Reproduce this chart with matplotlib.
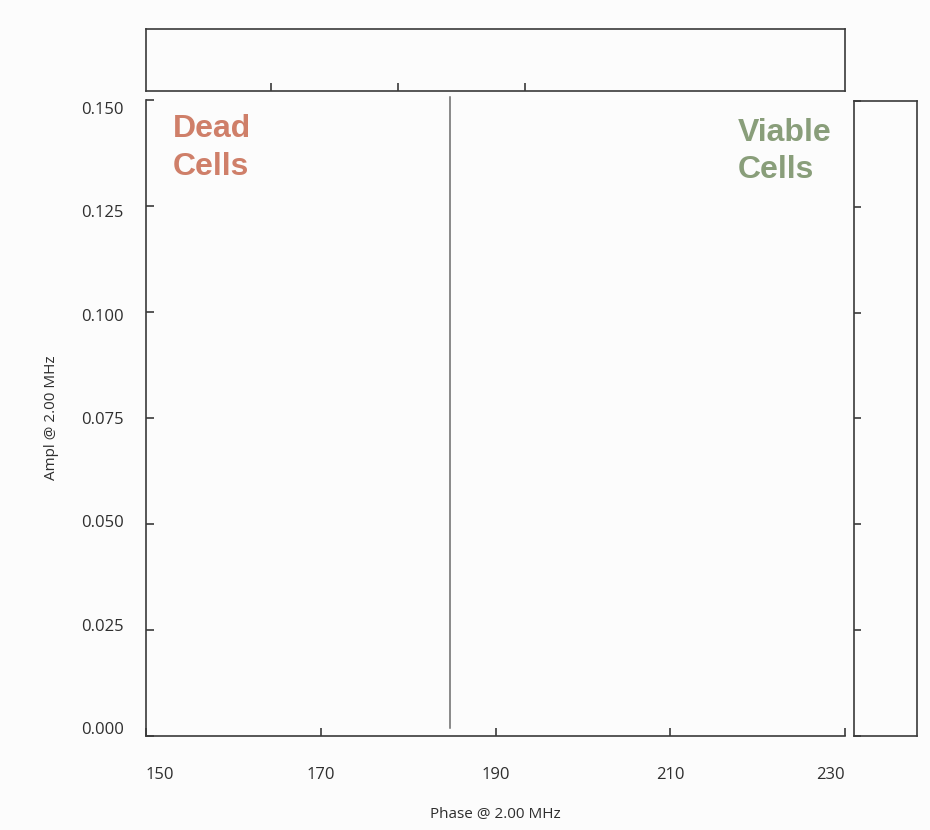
import matplotlib
matplotlib.use("Agg")
import matplotlib.pyplot as plt

# ---- data ----
x_ticks = [150, 170, 190, 210, 230]
y_ticks = [0.000, 0.025, 0.050, 0.075, 0.100, 0.125, 0.150]
y_tick_labels = ["0.000", "0.025", "0.050", "0.075", "0.100", "0.125", "0.150"]
x_limits = [150, 230]
y_limits = [0.0, 0.15]
gate_phase = [184.8, 184.8]
gate_ampl = [0.0019, 0.1507]
top_hist_ticks = [1, 2, 3]
top_hist_limits = [0.02, 5.52]
region_labels = ["Dead\nCells", "Viable\nCells"]
x_label = "Phase @ 2.00 MHz"
y_label = "Ampl @ 2.00 MHz"

BG = "#fcfcfc"
SPINE = "#3a3a3a"
TXT = "#2e2e2e"
DEAD = "#cf7f69"
VIABLE = "#899e7a"

W, H = 930, 830
fig = plt.figure(figsize=(9.3, 8.3), dpi=100, facecolor=BG)


def px_rect(x0, y0, x1, y1):
    return [x0 / W, 1 - y1 / H, (x1 - x0) / W, (y1 - y0) / H]


# main axes
ax = fig.add_axes(px_rect(146, 100, 845, 736), facecolor=BG)
ax.set_xlim(*x_limits)
ax.set_ylim(*y_limits)
for s in ["top", "right"]:
    ax.spines[s].set_visible(False)
for s in ["left", "bottom"]:
    ax.spines[s].set_color(SPINE)
    ax.spines[s].set_linewidth(1.2)
ax.set_xticks(x_ticks)
ax.set_yticks(y_ticks)
ax.set_yticklabels([])
ax.tick_params(axis="both", direction="in", length=6, width=1.2, color=SPINE)
ax.tick_params(axis="x", pad=22, labelsize=12, labelcolor=TXT)
for lab in ax.get_xticklabels():
    lab.set_fontfamily("Open Sans")
xl = ax.get_xticklabels()
xl[0].set_horizontalalignment("left")
xl[-1].set_horizontalalignment("right")

ax.plot(gate_phase, gate_ampl, color="#6a6a6a", linewidth=1.1, clip_on=False)

ax.text(0.0386, 0.882, region_labels[0], transform=ax.transAxes, color=DEAD,
        fontsize=23, fontweight="bold", family="Liberation Sans",
        ha="left", va="baseline", linespacing=1.36)
ax.text(0.847, 0.877, region_labels[1], transform=ax.transAxes, color=VIABLE,
        fontsize=23, fontweight="bold", family="Liberation Sans",
        ha="left", va="baseline", linespacing=1.31)

ax.set_xlabel(x_label, fontsize=11, color=TXT, family="Open Sans", va="center")
ax.xaxis.set_label_coords(0.5, -0.124)
ax.set_ylabel(y_label, fontsize=11, color=TXT, family="Open Sans", va="center")
ax.yaxis.set_label_coords(-0.1345, 0.5)

# overlay axis carrying y tick labels (labels spaced slightly tighter than ticks)
axl = fig.add_axes(px_rect(146, 100, 845, 736), facecolor="none")
axl.set_ylim(-0.001935, 0.15194)
axl.set_yticks(y_ticks)
axl.set_yticklabels(y_tick_labels, family="Open Sans", fontsize=12, color=TXT)
axl.tick_params(axis="y", length=0, pad=16)
axl.set_xticks([])
for s in axl.spines.values():
    s.set_visible(False)

# top marginal box
axt = fig.add_axes(px_rect(146, 29.5, 845, 91), facecolor=BG)
axt.set_xlim(*top_hist_limits)
axt.set_xticks(top_hist_ticks)
axt.set_xticklabels([])
axt.set_yticks([])
axt.tick_params(axis="x", direction="in", length=6, width=1.2, color=SPINE)
for s in axt.spines.values():
    s.set_color(SPINE)
    s.set_linewidth(1.2)

# right marginal box
axr = fig.add_axes(px_rect(854, 101, 916.5, 736), facecolor=BG)
axr.set_ylim(*y_limits)
axr.set_yticks(y_ticks)
axr.set_yticklabels([])
axr.set_xticks([])
axr.tick_params(axis="y", direction="in", length=5, width=1.2, color=SPINE)
for s in axr.spines.values():
    s.set_color(SPINE)
    s.set_linewidth(1.2)

fig.savefig("out.png", dpi=100, facecolor=BG)
